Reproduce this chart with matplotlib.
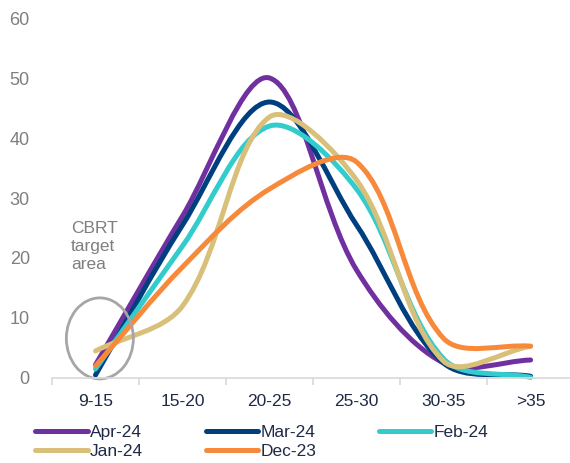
import matplotlib
matplotlib.use("Agg")
import matplotlib.pyplot as plt
from matplotlib.path import Path
from matplotlib.patches import PathPatch, Ellipse
from matplotlib.lines import Line2D

plt.rcParams['font.family'] = ['Liberation Sans', 'DejaVu Sans']

categories = ["9-15", "15-20", "20-25", "25-30", "30-35", ">35"]
series_names = ["Apr-24", "Mar-24", "Feb-24", "Jan-24", "Dec-23"]
apr_24 = [2.2, 27, 50, 18, 2.5, 3]
mar_24 = [0.5, 25.5, 46, 25.5, 2.5, 0.3]
feb_24 = [1.5, 22, 42, 31.5, 3.2, 0.1]
jan_24 = [4.5, 12, 43.5, 33, 2.8, 5.3]
dec_23 = [2, 18.5, 31.5, 36, 6.6, 5.3]
colors = ["#7030A0", "#003F7F", "#33CCCC", "#D9C07A", "#F78A3A"]

axis_text = "#1F2A44"
grey_text = "#7F7F7F"


def smooth_path(xs, ys, sx, sy):
    # Excel-like smoothed line: bezier segments, tangents weighted by
    # the on-screen length of the neighbouring segments
    pts = [(a * sx, b * sy) for a, b in zip(xs, ys)]
    n = len(pts)

    def dist(p, q):
        return ((p[0] - q[0]) ** 2 + (p[1] - q[1]) ** 2) ** 0.5

    ctrl_in, ctrl_out = [], []
    for i in range(n):
        prev = pts[max(i - 1, 0)]
        nxt = pts[min(i + 1, n - 1)]
        tx, ty = nxt[0] - prev[0], nxt[1] - prev[1]
        d_prev = dist(prev, pts[i])
        d_next = dist(pts[i], nxt)
        tot = d_prev + d_next
        f_in = d_prev / tot / 3
        f_out = d_next / tot / 3
        ctrl_in.append((pts[i][0] - tx * f_in, pts[i][1] - ty * f_in))
        ctrl_out.append((pts[i][0] + tx * f_out, pts[i][1] + ty * f_out))

    verts = [pts[0]]
    codes = [Path.MOVETO]
    for i in range(n - 1):
        verts += [ctrl_out[i], ctrl_in[i + 1], pts[i + 1]]
        codes += [Path.CURVE4] * 3
    verts = [(a / sx, b / sy) for a, b in verts]
    return Path(verts, codes)


fig = plt.figure(figsize=(5.7, 4.63), dpi=100)
ax = fig.add_axes([0.0912, 0.1836, 0.916, 0.7775])
ax.set_xlim(-0.5, len(categories) - 0.5)
ax.set_ylim(0, 60)

# pixels per data unit, for the smoothing
px_x = 5.7 * 100 * 0.916 / len(categories)
px_y = 4.63 * 100 * 0.7775 / 60

x = list(range(len(categories)))
for vals, col in zip([apr_24, mar_24, feb_24, jan_24, dec_23], colors):
    patch = PathPatch(smooth_path(x, vals, px_x, px_y), facecolor="none",
                      edgecolor=col, lw=3.6, capstyle="round",
                      joinstyle="round", clip_on=False)
    ax.add_patch(patch)

ax.set_yticks(range(0, 61, 10))
ax.set_xticks(x)
ax.set_xticklabels(categories)
ax.set_xticks([i + 0.5 for i in range(-1, len(categories))], minor=True)

for s in ["top", "right", "left"]:
    ax.spines[s].set_visible(False)
ax.spines["bottom"].set_color("#D9D9D9")
ax.spines["bottom"].set_linewidth(1.2)

ax.tick_params(axis="y", length=0, labelsize=13, labelcolor=grey_text, pad=16)
ax.tick_params(axis="x", which="major", length=0, labelsize=12.5,
               labelcolor=axis_text, pad=11.5)
ax.tick_params(axis="x", which="minor", length=5, color="#D9D9D9", width=1.2)

# target area marker
ax.add_patch(Ellipse((0.05, 6.6), 0.77, 13.5, facecolor="none",
                     edgecolor="#A6A6A6", lw=2, clip_on=False))
ax.text(-0.28, 26.2, "CBRT\ntarget\narea", color=grey_text, fontsize=12.5,
        va="top", ha="left", linespacing=1.25)

# legend filled row by row like the original: reorder for column filling
handles = [Line2D([], [], color=c, lw=3.6, solid_capstyle="round") for c in colors]
order = [0, 3, 1, 4, 2]
fig.legend([handles[i] for i in order], [series_names[i] for i in order],
           loc="upper left", bbox_to_anchor=(0.047, 0.101),
           ncol=3, frameon=False, fontsize=12.5, handlelength=3.0,
           handletextpad=0.15, columnspacing=3.6, labelspacing=0.22,
           borderpad=0, labelcolor=axis_text)

fig.savefig("out.png", dpi=100)
